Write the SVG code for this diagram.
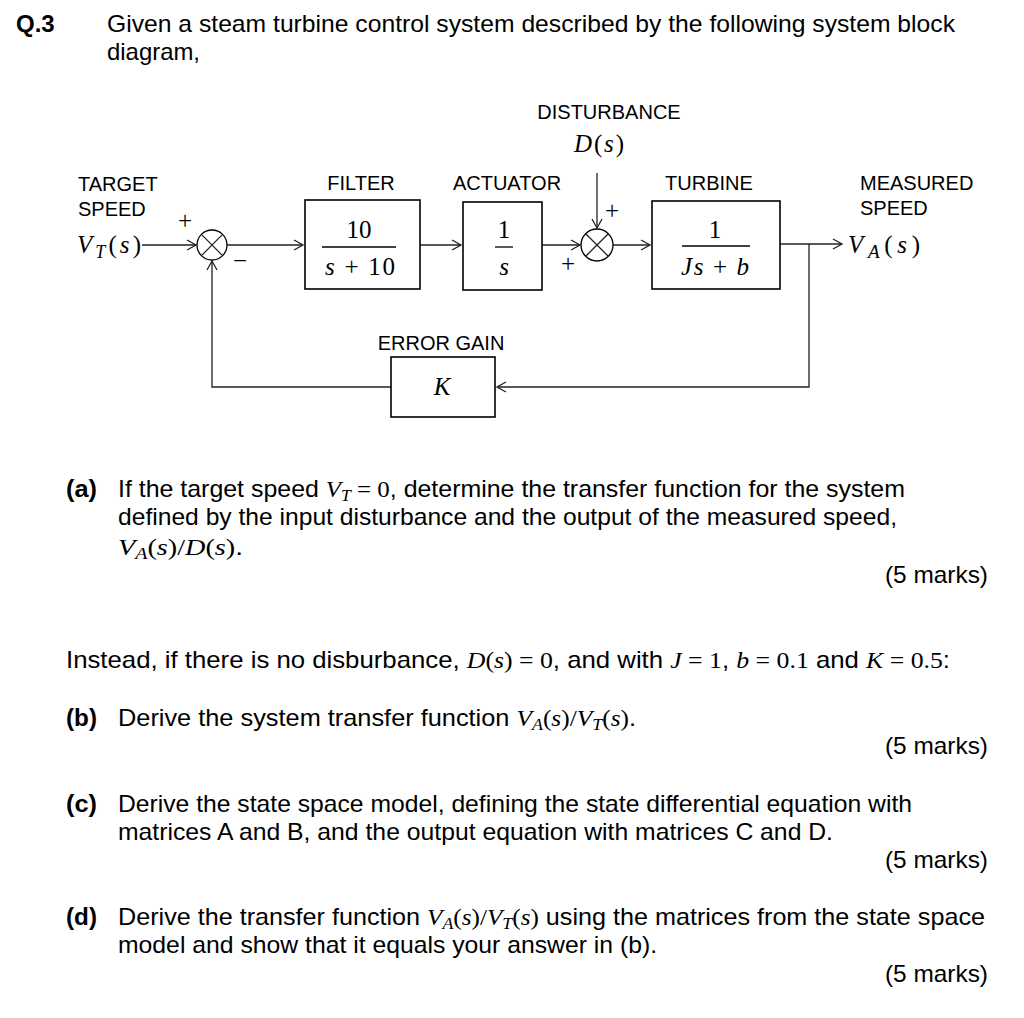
<svg xmlns="http://www.w3.org/2000/svg" width="1024" height="1018" viewBox="0 0 1024 1018">
<style>
.t{font-family:"Liberation Sans",Arial,sans-serif;font-size:24px;fill:#000}
.b{font-weight:bold}
.m{font-family:"Liberation Serif","Times New Roman",serif;font-style:italic}
.n{font-family:"Liberation Serif","Times New Roman",serif;font-style:normal}
.lbl{font-family:"Liberation Sans",Arial,sans-serif;font-size:20px;fill:#000}
.mx{font-family:"Liberation Serif","Times New Roman",serif;font-size:25px;fill:#000}
.box{fill:#fff;stroke:#000;stroke-width:1.6}
.ln{fill:none;stroke:#222;stroke-width:1.3}
.sj{fill:#fff;stroke:#000;stroke-width:1.3}
</style>
<defs>
<marker id="ar" markerUnits="userSpaceOnUse" markerWidth="14" markerHeight="14" refX="10" refY="6" orient="auto">
<path d="M1,1 L10,6 L1,11" fill="none" stroke="#222" stroke-width="1.3"/>
</marker>
</defs>
<rect width="1024" height="1018" fill="#fff"/>

<text class="t b" x="16" y="32" font-size="22">Q.3</text>
<text class="t" x="107" y="32" textLength="848" lengthAdjust="spacingAndGlyphs">Given a steam turbine control system described by the following system block</text>
<text class="t" x="107" y="60" textLength="93" lengthAdjust="spacingAndGlyphs">diagram,</text>

<g id="connectors">
<path class="ln" d="M142,245 H196" marker-end="url(#ar)"/>
<path class="ln" d="M227,245 H303" marker-end="url(#ar)"/>
<path class="ln" d="M420,245 H461" marker-end="url(#ar)"/>
<path class="ln" d="M542,245 H580" marker-end="url(#ar)"/>
<path class="ln" d="M613,245 H650" marker-end="url(#ar)"/>
<path class="ln" d="M597,173 V228" marker-end="url(#ar)"/>
<path class="ln" d="M780,244 H842" marker-end="url(#ar)"/>
<path class="ln" d="M809,244 V387 H497" marker-end="url(#ar)"/>
<path class="ln" d="M391,387 H212 V261" marker-end="url(#ar)"/>
</g>

<g id="target">
<text class="lbl" x="78" y="191">TARGET</text>
<text class="lbl" x="78" y="216">SPEED</text>
<text class="mx" x="77" y="253" textLength="64" lengthAdjust="spacing"><tspan class="m">V</tspan><tspan class="m" font-size="18" dy="5">T</tspan><tspan dy="-5">(</tspan><tspan class="m">s</tspan>)</text>
</g>

<g id="sum1">
<circle class="sj" cx="212" cy="245" r="15"/>
<path class="ln" d="M201.4,234.4 L222.6,255.6 M222.6,234.4 L201.4,255.6" stroke="#000"/>
<text class="mx" x="185" y="229" text-anchor="middle" font-size="27">+</text>
<text class="mx" x="240" y="269" text-anchor="middle" font-size="27">−</text>
</g>

<g id="filter">
<text class="lbl" x="361" y="190" text-anchor="middle">FILTER</text>
<rect class="box" x="305" y="200" width="115" height="89"/>
<text class="mx n" x="359" y="238" text-anchor="middle">10</text>
<line x1="322" y1="247" x2="396" y2="247" stroke="#000" stroke-width="1.3"/>
<text class="mx" x="360" y="275" text-anchor="middle" textLength="70" lengthAdjust="spacing"><tspan class="m">s</tspan> + 10</text>
</g>

<g id="actuator">
<text class="lbl" x="507" y="190" text-anchor="middle">ACTUATOR</text>
<rect class="box" x="463" y="202" width="79" height="88"/>
<text class="mx" x="504" y="238" text-anchor="middle">1</text>
<line x1="495" y1="247" x2="513" y2="247" stroke="#000" stroke-width="1.3"/>
<text class="mx m" x="504" y="275" text-anchor="middle">s</text>
</g>

<g id="disturbance">
<text class="lbl" x="609" y="119" text-anchor="middle">DISTURBANCE</text>
<text class="mx" x="599" y="152" text-anchor="middle" textLength="50" lengthAdjust="spacing"><tspan class="m">D</tspan>(<tspan class="m">s</tspan>)</text>
</g>

<g id="sum2">
<circle class="sj" cx="597" cy="245" r="16"/>
<path class="ln" d="M585.7,233.7 L608.3,256.3 M608.3,233.7 L585.7,256.3" stroke="#000"/>
<text class="mx" x="612" y="219" text-anchor="middle" font-size="27">+</text>
<text class="mx" x="568" y="272" text-anchor="middle" font-size="27">+</text>
</g>

<g id="turbine">
<text class="lbl" x="709" y="190" text-anchor="middle">TURBINE</text>
<rect class="box" x="652" y="201" width="128" height="88"/>
<text class="mx" x="715" y="238" text-anchor="middle">1</text>
<line x1="682" y1="246" x2="750" y2="246" stroke="#000" stroke-width="1.3"/>
<text class="mx" x="715" y="275" text-anchor="middle" textLength="68" lengthAdjust="spacing"><tspan class="m">Js</tspan> + <tspan class="m">b</tspan></text>
</g>

<g id="measured">
<text class="lbl" x="860" y="190">MEASURED</text>
<text class="lbl" x="860" y="215">SPEED</text>
<text class="mx" x="848" y="253" font-size="27" textLength="72" lengthAdjust="spacing"><tspan class="m">V</tspan><tspan class="m" font-size="19" dy="5">A</tspan><tspan dy="-5">(</tspan><tspan class="m">s</tspan>)</text>
</g>

<g id="gain">
<text class="lbl" x="441" y="350" text-anchor="middle">ERROR GAIN</text>
<rect class="box" x="391" y="357" width="104" height="60"/>
<text class="mx m" x="442" y="395" text-anchor="middle">K</text>
</g>

<text class="t b" x="66" y="497" textLength="31" lengthAdjust="spacingAndGlyphs">(a)</text>
<text class="t" x="118" y="497" textLength="787" lengthAdjust="spacingAndGlyphs">If the target speed <tspan class="m">V</tspan><tspan class="m" font-size="17" dy="4">T</tspan><tspan class="n" dy="-4"> = 0</tspan>, determine the transfer function for the system</text>
<text class="t" x="118" y="525" textLength="779" lengthAdjust="spacingAndGlyphs">defined by the input disturbance and the output of the measured speed,</text>
<text class="t" x="118" y="555" textLength="125" lengthAdjust="spacingAndGlyphs"><tspan class="m">V</tspan><tspan class="m" font-size="17" dy="4">A</tspan><tspan class="n" dy="-4">(</tspan><tspan class="m">s</tspan><tspan class="n">)/</tspan><tspan class="m">D</tspan><tspan class="n">(</tspan><tspan class="m">s</tspan><tspan class="n">)</tspan>.</text>
<text class="t" x="988" y="583" text-anchor="end" textLength="103" lengthAdjust="spacingAndGlyphs">(5 marks)</text>

<text class="t" x="66" y="668" textLength="884" lengthAdjust="spacingAndGlyphs">Instead, if there is no disburbance, <tspan class="m">D</tspan><tspan class="n">(</tspan><tspan class="m">s</tspan><tspan class="n">) = 0</tspan>, and with <tspan class="m">J</tspan><tspan class="n"> = 1</tspan>, <tspan class="m">b</tspan><tspan class="n"> = 0.1</tspan> and <tspan class="m">K</tspan><tspan class="n"> = 0.5</tspan>:</text>

<text class="t b" x="66" y="726" textLength="31" lengthAdjust="spacingAndGlyphs">(b)</text>
<text class="t" x="118" y="726" textLength="518" lengthAdjust="spacingAndGlyphs">Derive the system transfer function <tspan class="m">V</tspan><tspan class="m" font-size="17" dy="4">A</tspan><tspan class="n" dy="-4">(</tspan><tspan class="m">s</tspan><tspan class="n">)/</tspan><tspan class="m">V</tspan><tspan class="m" font-size="17" dy="4">T</tspan><tspan class="n" dy="-4">(</tspan><tspan class="m">s</tspan><tspan class="n">)</tspan>.</text>
<text class="t" x="988" y="754" text-anchor="end" textLength="103" lengthAdjust="spacingAndGlyphs">(5 marks)</text>

<text class="t b" x="66" y="812" textLength="31" lengthAdjust="spacingAndGlyphs">(c)</text>
<text class="t" x="118" y="812" textLength="794" lengthAdjust="spacingAndGlyphs">Derive the state space model, defining the state differential equation with</text>
<text class="t" x="118" y="840" textLength="715" lengthAdjust="spacingAndGlyphs">matrices A and B, and the output equation with matrices C and D.</text>
<text class="t" x="988" y="868" text-anchor="end" textLength="103" lengthAdjust="spacingAndGlyphs">(5 marks)</text>

<text class="t b" x="66" y="925" textLength="31" lengthAdjust="spacingAndGlyphs">(d)</text>
<text class="t" x="118" y="925" textLength="867" lengthAdjust="spacingAndGlyphs">Derive the transfer function <tspan class="m">V</tspan><tspan class="m" font-size="17" dy="4">A</tspan><tspan class="n" dy="-4">(</tspan><tspan class="m">s</tspan><tspan class="n">)/</tspan><tspan class="m">V</tspan><tspan class="m" font-size="17" dy="4">T</tspan><tspan class="n" dy="-4">(</tspan><tspan class="m">s</tspan><tspan class="n">)</tspan> using the matrices from the state space</text>
<text class="t" x="118" y="953" textLength="539" lengthAdjust="spacingAndGlyphs">model and show that it equals your answer in (b).</text>
<text class="t" x="988" y="982" text-anchor="end" textLength="103" lengthAdjust="spacingAndGlyphs">(5 marks)</text>
</svg>
